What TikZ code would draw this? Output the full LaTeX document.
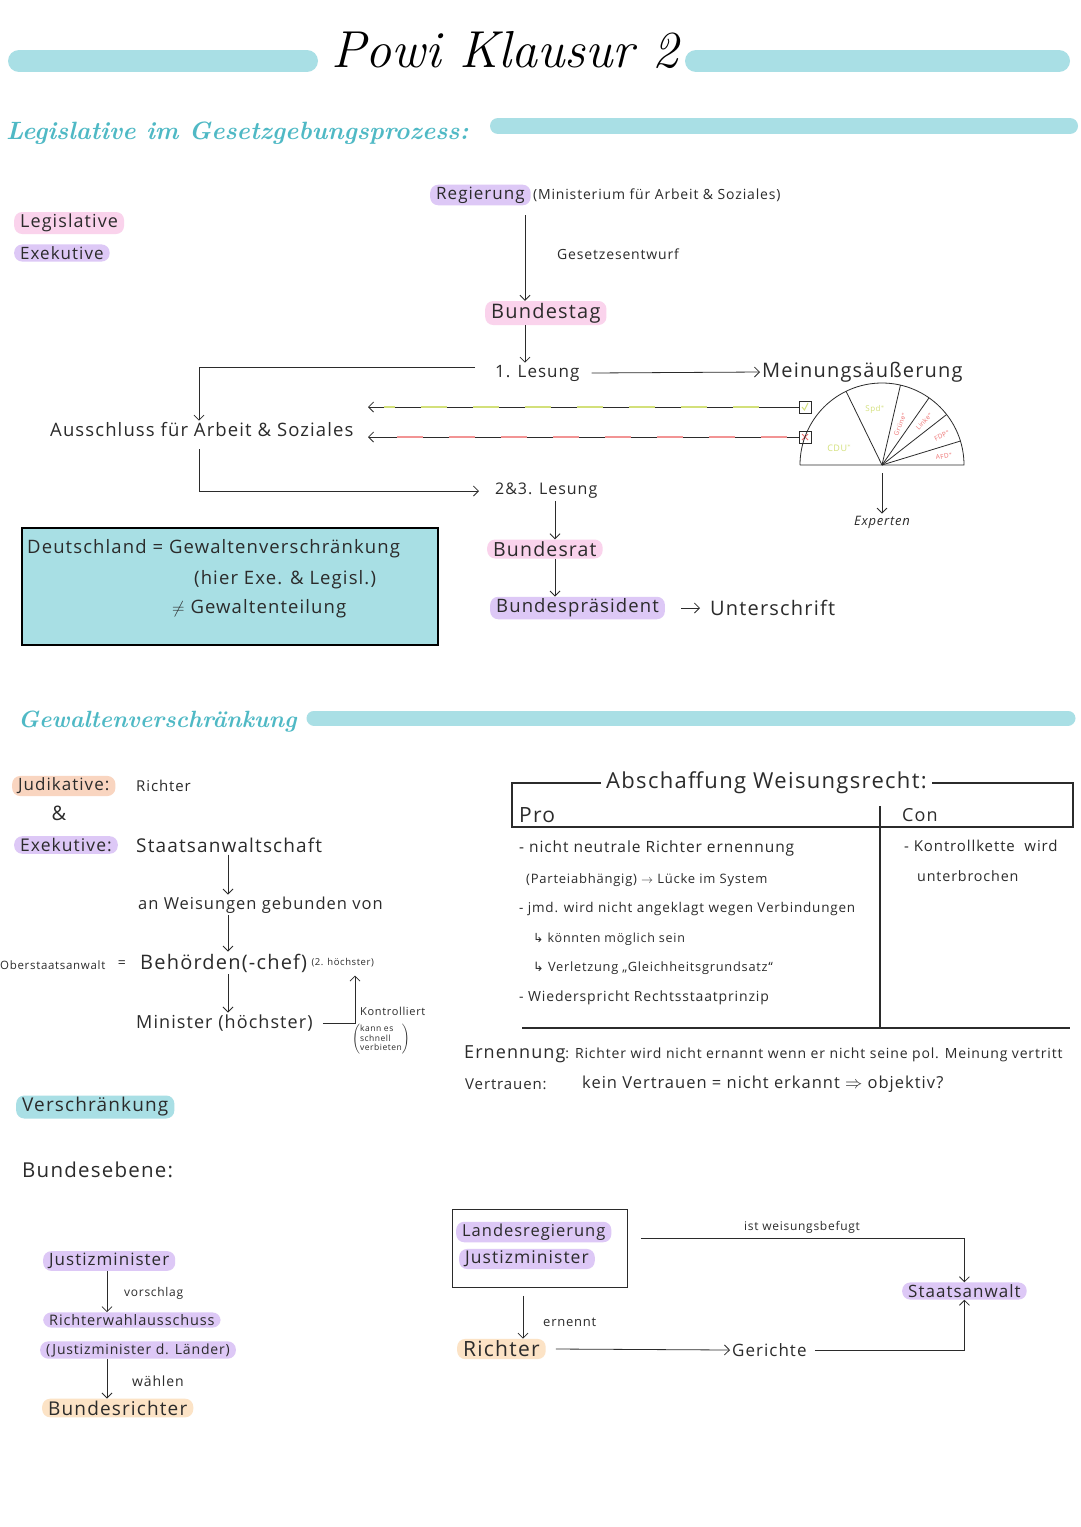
\documentclass[tikz,border=0pt]{standalone}
\usepackage{fontspec}
\newfontfamily\handfont{Open Sans}[LetterSpace=6]
\newfontfamily\symfont{DejaVu Sans}
\usetikzlibrary{arrows.meta}

\definecolor{ink}{HTML}{2B2B2B}
\definecolor{barteal}{HTML}{A9DFE5}
\definecolor{headteal}{HTML}{4FB9C5}
\definecolor{hlpink}{HTML}{FAD3EC}
\definecolor{hlpurple}{HTML}{DDC8F6}
\definecolor{hlorange}{HTML}{F9D5C0}
\definecolor{hlpeach}{HTML}{FCE3C6}
\definecolor{boxteal}{HTML}{A8DFE4}
\definecolor{lime}{HTML}{D3E07A}
\definecolor{redp}{HTML}{EE7070}

\newcommand\fsz[1]{\fontsize{#1}{#1}\selectfont}

\tikzset{
  txt/.style={font={\handfont\fsz{#1}}, text=ink, inner sep=2pt},
  txt/.default=16,
  mark/.style={txt=#1, rounded corners=8pt, inner xsep=6pt, inner ysep=2pt},
  markpink/.style={mark=#1, fill=hlpink},
  markpink/.default=18,
  markpurple/.style={mark=#1, fill=hlpurple},
  markpurple/.default=18,
  markorange/.style={mark=#1, fill=hlorange},
  markorange/.default=18,
  markpeach/.style={mark=#1, fill=hlpeach},
  markpeach/.default=18,
  markteal/.style={mark=#1, fill=barteal},
  markteal/.default=20,
  heading/.style={font={\rmfamily\itshape\bfseries\fsz{#1}}, text=headteal, inner sep=2pt},
  bar/.style={draw=barteal, line cap=round},
  arr/.style={draw=ink, line width=0.8pt, -{Straight Barb[length=5pt,width=10pt]}},
  plain/.style={draw=ink, line width=0.8pt},
  frame/.style={draw=ink, line width=1.8pt},
  cbox/.style={draw=ink, line width=0.7pt, minimum size=12pt, inner sep=0pt},
  party/.style={font={\handfont\fsz{#1}}, inner sep=0pt},
  party/.default=6.5,
}

\begin{document}
\begin{tikzpicture}[x=1pt, y=-1pt]
\fill[white] (0,0) rectangle (1080,1527);
\useasboundingbox (0,0) rectangle (1080,1527);

% title
\draw[bar, line width=22pt] (19,61) -- (307,61);
\node[font={\rmfamily\itshape\fsz{52}}, text=black] (title) at (505,50) {Powi Klausur 2};
\draw[bar, line width=22pt] (696,61) -- (1059,61);

% Legislative im Gesetzgebungsprozess
\node[heading=25, anchor=west] (head1) at (4,133) {Legislative im Gesetzgebungsprozess:};
\draw[bar, line width=16pt] (498,126) -- (1070,126);

\node[markpink=18, anchor=west] (legi) at (14,223) {Legislative};
\node[markpurple=17, anchor=west] (exe) at (14,253) {Exekutive};

\coordinate (axisA) at (525,0);
\coordinate (axisB) at (199,0);
\coordinate (axisC) at (555,0);

\node[markpurple=17, anchor=west] (regierung) at (430,195) {Regierung};
\node[txt=14, anchor=west] (ministerium) at (regierung.east) {(Ministerium für Arbeit \& Soziales)};
\node[markpink=20, anchor=west] (bundestag) at (485,313) {Bundestag};
\draw[arr] ([yshift=-10pt]axisA |- regierung.south) -- (axisA |- bundestag.north);
\node[txt=14, anchor=west] (entwurf) at (555,254) {Gesetzesentwurf};

\node[txt=17, anchor=west] (lesung1) at (493,373) {1. Lesung};
\draw[arr] (axisA |- bundestag.south) -- (axisA |- lesung1.north);
\node[txt=20, anchor=west] (meinung) at (760,372) {Meinungsäußerung};
\draw[arr] ([xshift=10pt]lesung1.east) -- (meinung.west);

\node[txt=18.5, anchor=west] (ausschuss) at (48,430) {Ausschluss für Arbeit \& Soziales};
\draw[arr] ([xshift=-18pt,yshift=6pt]lesung1.west) -| (axisB |- ausschuss.north);

% Abstimmung
\node[cbox] (ja) at (805,407) {};
\node[cbox] (nein) at (805,437) {};
\draw[lime, line width=1pt] ([xshift=-3pt]ja.center) -- ([xshift=-0.5pt,yshift=-3pt]ja.center) -- ([xshift=3pt,yshift=4pt]ja.center);
\draw[redp, line width=0.9pt] ([xshift=-3pt,yshift=-3pt]nein.center) -- ([xshift=3pt,yshift=3pt]nein.center)
  ([xshift=-3pt,yshift=3pt]nein.center) -- ([xshift=3pt,yshift=-3pt]nein.center);
\coordinate (lineend) at (368,0);
\draw[arr] (ja.west) -- (lineend |- ja.west);
\draw[lime, line width=2pt, dash pattern=on 26pt off 26pt] ([xshift=-40pt]ja.west) -- ([xshift=16pt]lineend |- ja.west);
\draw[arr] (nein.west) -- (lineend |- nein.west);
\draw[redp!75, line width=1.6pt, dash pattern=on 26pt off 26pt] ([xshift=-12pt]nein.west) -- ([xshift=16pt]lineend |- nein.west);

% Sitzverteilung
\coordinate (parl) at (882,465);
\draw[plain] (parl) ++(-82pt,0pt) -- ++(164pt,0pt) arc[start angle=0, end angle=180, radius=82pt];
\foreach \a in {116,77,55,38,17}
  \draw[plain] (parl) -- ++(\a:82pt);
\path (parl) ++(158:46pt) node[party=9, text=lime] (cdu) {CDU$^*$};
\path (parl) ++(97:56pt) node[party=8, text=lime] (spd) {Spd$^*$};
\path (parl) ++(66:45pt) node[party, text=redp, rotate=68] (gruene) {Grüne$^*$};
\path (parl) ++(46:61pt) node[party, text=redp, rotate=47] (linke) {Linke$^*$};
\path (parl) ++(26:67pt) node[party, text=redp, rotate=27] (fdp) {FDP$^*$};
\path (parl) ++(8:63pt) node[party, text=redp, rotate=8] (afd) {AFD$^*$};
\node[txt=13, font={\handfont\itshape\fsz{13}}] (experten) at (882,522) {Experten};
\draw[arr] ([yshift=-8pt]parl) -- (experten.north);

% 2. und 3. Lesung
\node[txt=16, anchor=west] (lesung23) at (493,491) {2\&3. Lesung};
\draw[arr] ([yshift=-10pt]axisB |- ausschuss.south) |- ([xshift=-14pt]lesung23.west);
\node[markpink=19.5, anchor=west] (bundesrat) at (487,549) {Bundesrat};
\draw[arr] (axisC |- lesung23.south) -- (axisC |- bundesrat.north);
\node[markpurple=18.5, anchor=west] (praesident) at (490,608) {Bundespräsident};
\draw[arr] (axisC |- bundesrat.south) -- (axisC |- praesident.north);
\node[txt=20, anchor=west] (unterschrift) at (708,608) {Unterschrift};
\draw[arr] ([xshift=16pt]praesident.east) -- ([xshift=-8pt]unterschrift.west);

% Merkkasten
\node[draw=black, line width=2pt, fill=boxteal, anchor=north west, minimum width=416pt, minimum height=117pt] (merk) at (21,527) {};
\node[txt=18.5, anchor=west] (merk1) at (25,549) {Deutschland = Gewaltenverschränkung};
\node[txt=18.5, anchor=west] (merk2) at (192,580) {(hier Exe. \& Legisl.)};
\node[txt=18.5, anchor=west] (merk3) at (170,609) {$\neq$ Gewaltenteilung};

% Gewaltenverschraenkung
\node[heading=23.5, anchor=west] (head2) at (16,722) {Gewaltenverschränkung};
\draw[bar, line width=15pt] (314,718) -- (1068,718);

\coordinate (axisD) at (228,0);
\node[markorange=17, anchor=west] (judikative) at (12,786) {Judikative:};
\node[txt=15, anchor=west] (richter) at (134,786) {Richter};
\node[txt=20] (und) at (59,813) {\&};
\node[markpurple=17.5, anchor=west] (exekutive) at (14,845) {Exekutive:};
\node[txt=19, anchor=west] (staatsanw) at (134,845) {Staatsanwaltschaft};
\node[txt=16.5, anchor=west] (weisungen) at (136,905) {an Weisungen gebunden von};
\draw[arr] (axisD |- staatsanw.south) -- (axisD |- weisungen.north);
\node[txt=11.5, anchor=west] (oberstaats) at (-2,965) {Oberstaatsanwalt};
\node[txt=14] (gleich) at (122,964) {=};
\node[txt=20, anchor=west] (behoerden) at (138,963) {Behörden(-chef)};
\node[txt=9.5, anchor=west] (zweit) at (behoerden.east) {(2. höchster)};
\draw[arr] (axisD |- weisungen.south) -- (axisD |- behoerden.north);
\node[txt=18, anchor=west] (minister) at (134,1023) {Minister (höchster)};
\draw[arr] (axisD |- behoerden.south) -- (axisD |- minister.north);
\coordinate (axisE) at (355,0);
\draw[arr] ([xshift=8pt]minister.east) -| ([yshift=-6pt]axisE |- zweit.south);
\node[txt=11, anchor=west] (kontrolliert) at (358,1011) {Kontrolliert};
\node[txt=8.5, anchor=north west, inner sep=0pt] (verbieten) at (352,1024)
  {$\left(\vcenter{\hbox{\handfont\fontsize{8.5}{9}\selectfont\begin{tabular}{@{}l@{}}kann es\\ schnell\\ verbieten\end{tabular}}}\right)$};

% Abschaffung Weisungsrecht
\node[txt=22, anchor=west] (abschaffung) at (604,783) {Abschaffung Weisungsrecht:};
\draw[frame] ([xshift=-3pt]abschaffung.west) -- (512,783) -- (512,827) -- (1073,827) -- (1073,783) -- ([xshift=3pt]abschaffung.east);
\draw[frame] (880,806) -- (880,1028);
\draw[frame] (522,1028) -- (1070,1028);
\node[txt=21, anchor=west] (pro) at (517,815) {Pro};
\node[txt=18, anchor=west] (con) at (900,815) {Con};
\node[txt=15.5, anchor=west] (pro1) at (517,848) {- nicht neutrale Richter ernennung};
\node[txt=13, anchor=west] (pro2) at (524,880) {(Parteiabhängig) $\rightarrow$ Lücke im System};
\node[txt=13.5, anchor=west] (pro3) at (517,909) {- jmd. wird nicht angeklagt wegen Verbindungen};
\node[txt=12.5, anchor=west] (pro4) at (531,939) {{\symfont ↳} könnten möglich sein};
\node[txt=12.8, anchor=west] (pro5) at (531,968) {{\symfont ↳} Verletzung „Gleichheitsgrundsatz“};
\node[txt=14, anchor=west] (pro6) at (517,998) {- Wiederspricht Rechtsstaatprinzip};
\node[txt=15, anchor=west] (con1) at (902,846) {- Kontrollkette\ \ wird};
\node[txt=14.3, anchor=west] (con2) at (915,876) {unterbrochen};

\node[txt=14, anchor=west] (ernennung) at (462,1054) {{\fsz{18}Ernennung}: Richter wird nicht ernannt wenn er nicht seine pol. Meinung vertritt};
\node[txt=15, anchor=west] (vertrauen) at (463,1084) {Vertrauen:};
\node[txt=16.5, anchor=west] (vertrauen2) at (580,1084) {kein Vertrauen = nicht erkannt $\Rightarrow$ objektiv?};

% Verschraenkung
\node[markteal=19, anchor=west] (verschr) at (16,1107) {Verschränkung};
\node[txt=20.5, anchor=west] (bundesebene) at (20,1170) {Bundesebene:};

\coordinate (axisF) at (107,0);
\node[markpurple=17, anchor=west] (justizmin) at (43,1261) {Justizminister};
\node[markpurple=14.5, anchor=west] (wahlaus) at (43,1320) {Richterwahlausschuss};
\node[markpurple=14, anchor=west] (laender) at (40,1350) {(Justizminister d. Länder)};
\node[markpeach=19, anchor=west] (bundesrichter) at (42,1408) {Bundesrichter};
\draw[arr] (axisF |- justizmin.south) -- (axisF |- wahlaus.north);
\node[txt=12, anchor=west] (vorschlag) at (122,1293) {vorschlag};
\draw[arr] (axisF |- laender.south) -- (axisF |- bundesrichter.north);
\node[txt=14, anchor=west] (waehlen) at (130,1381) {wählen};

% Landesebene
\node[draw=ink, line width=0.8pt, anchor=north west, minimum width=175pt, minimum height=78pt] (landbox) at (452,1209) {};
\node[markpurple=16.5, anchor=west] (landesreg) at (456,1232) {Landesregierung};
\node[markpurple=17.5, anchor=west] (justizmin2) at (459,1259) {Justizminister};
\node[markpurple=17, anchor=west] (staatsanwalt) at (902,1291) {Staatsanwalt};
\draw[arr] ([xshift=13pt,yshift=10pt]landbox.east) -| (staatsanwalt.north);
\node[txt=12] (befugt) at (802,1227) {ist weisungsbefugt};
\node[markpeach=21, anchor=west] (richter2) at (457,1349) {Richter};
\coordinate (axisG) at (523,0);
\draw[arr] ([yshift=-8pt]axisG |- landbox.south) -- (axisG |- richter2.north);
\node[txt=13, anchor=west] (ernennt) at (541,1322) {ernennt};
\node[txt=17, anchor=west] (gerichte) at (730,1350) {Gerichte};
\draw[arr] ([xshift=10pt]richter2.east) -- (gerichte.west);
\draw[arr] ([xshift=6pt]gerichte.east) -| (staatsanwalt.south);
\end{tikzpicture}
\end{document}
